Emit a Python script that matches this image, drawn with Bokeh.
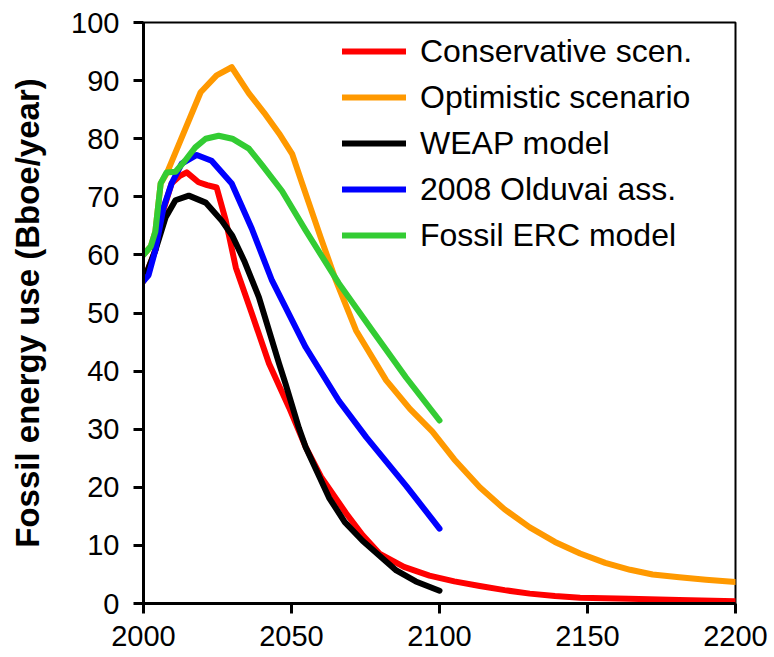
from bokeh.plotting import figure
from bokeh.models import Legend, LegendItem, FixedTicker
from bokeh.embed import file_html
from bokeh.resources import INLINE

# ---- data ----
cons_x = [2000, 2004, 2007, 2009.5, 2012, 2014.6, 2018.6, 2021.5, 2024.7, 2027.8, 2031.2,
          2036.6, 2042.4, 2049.2, 2054.8, 2060, 2068.5, 2074, 2079.7, 2088, 2096.6, 2105,
          2113.6, 2122, 2130.5, 2139, 2147.5, 2164, 2181, 2200]
cons_y = [55.5, 60.8, 68.2, 72.3, 73.5, 74.2, 72.5, 72.0, 71.6, 65.9, 57.8,
          49.9, 41.3, 33.7, 26.9, 21.8, 15.5, 11.8, 8.6, 6.3, 4.8, 3.8,
          3.0, 2.3, 1.7, 1.3, 1.0, 0.8, 0.6, 0.4]

opt_x = [2000, 2002.5, 2004, 2005.8, 2008, 2019.3, 2024.7, 2029.8, 2035.6, 2040.7, 2045.8,
         2050.2, 2053.6, 2060, 2065, 2071.8, 2082, 2090, 2097.6, 2105, 2113.6, 2122, 2130.5,
         2139, 2147.5, 2156, 2164.4, 2172, 2181, 2190, 2200]
opt_y = [60, 61.5, 64, 72.3, 74.2, 88.0, 90.9, 92.3, 87.8, 84.5, 80.9,
         77.4, 72.3, 62.8, 55.6, 47.0, 38.4, 33.5, 29.6, 24.8, 20.0, 16.2, 13.1,
         10.6, 8.6, 7.0, 5.8, 5.0, 4.5, 4.1, 3.7]

weap_x = [2000, 2004, 2007.5, 2010.8, 2015.3, 2021, 2026.4, 2030, 2034, 2039, 2045.8,
          2048, 2052.5, 2054.8, 2062.7, 2068, 2074, 2085.4, 2092, 2100]
weap_y = [55.5, 60.8, 66.5, 69.4, 70.2, 69.0, 65.9, 63.3, 59.0, 52.7, 41.3,
          37.8, 30.2, 26.9, 18.2, 14.0, 10.8, 5.7, 3.8, 2.2]

oldu_x = [2000, 2001.7, 2004, 2006.8, 2009.5, 2012.9, 2018, 2023, 2029.8, 2036.6, 2043.4,
          2054.8, 2066, 2075.3, 2088.8, 2100]
oldu_y = [55.5, 56.5, 60.8, 68.2, 72.3, 75.7, 77.2, 76.2, 72.3, 64.5, 55.6,
          44.1, 34.9, 28.6, 20.2, 12.9]

erc_x = [2000, 2002.5, 2004, 2005.8, 2007.8, 2010.8, 2014, 2017.5, 2021, 2025.4, 2030,
         2035.6, 2040, 2046.8, 2054.8, 2066, 2077.3, 2088.7, 2100]
erc_y = [60, 61.5, 64, 72.3, 74.2, 74.3, 76.2, 78.5, 80.0, 80.5, 80.0,
         78.3, 75.5, 71.0, 64.2, 55.1, 47.0, 38.9, 31.5]

labels = ["Conservative scen.", "Optimistic scenario", "WEAP model",
          "2008 Olduvai ass.", "Fossil ERC model"]
colors = ["#FF0000", "#FF9900", "#000000", "#0000FF", "#33CC33"]
x_ticks = [2000, 2050, 2100, 2150, 2200]
y_ticks = [0, 10, 20, 30, 40, 50, 60, 70, 80, 90, 100]

FONT = "Liberation Sans"

p = figure(frame_width=592, frame_height=581, x_range=(2000, 2200), y_range=(0, 100),
           output_backend="svg", toolbar_location=None,
           min_border_left=143, min_border_top=22, min_border_right=37, min_border_bottom=54)

p.xgrid.visible = False
p.ygrid.visible = False
p.outline_line_color = "black"
p.outline_line_width = 2
p.outline_line_alpha = 1

series = [(cons_x, cons_y), (opt_x, opt_y), (weap_x, weap_y), (oldu_x, oldu_y), (erc_x, erc_y)]
renderers = []
for (xs, ys), c in zip(series, colors):
    r = p.line(xs, ys, line_color=c, line_width=6, line_cap="round", line_join="round")
    renderers.append(r)

for ax in (p.xaxis[0], p.yaxis[0]):
    ax.axis_line_width = 3
    ax.axis_line_color = "black"
    ax.major_tick_line_width = 3
    ax.major_tick_out = 10
    ax.major_tick_in = 0
    ax.minor_tick_line_color = None
    ax.major_label_text_font = FONT
    ax.major_label_text_font_size = "29px"
    ax.major_label_text_color = "black"

p.xaxis.ticker = FixedTicker(ticks=x_ticks)
p.yaxis.ticker = FixedTicker(ticks=y_ticks)
p.xaxis.major_label_standoff = 12
p.yaxis.major_label_standoff = 14

p.yaxis.axis_label = "Fossil energy use (Bboe/year)"
p.yaxis.axis_label_text_font = FONT
p.yaxis.axis_label_text_font_size = "33px"
p.yaxis.axis_label_text_font_style = "bold"
p.yaxis.axis_label_text_color = "black"
p.yaxis.axis_label_standoff = 22

items = [LegendItem(label=l, renderers=[r]) for l, r in zip(labels, renderers)]
legend = Legend(items=items, location=(199, 345))
legend.glyph_width = 64
legend.glyph_height = 46
legend.label_height = 46
legend.spacing = 0
legend.padding = 0
legend.margin = 0
legend.label_standoff = 14
legend.label_text_font = FONT
legend.label_text_font_size = "32px"
legend.label_text_color = "black"
legend.border_line_color = None
legend.background_fill_alpha = 0
p.add_layout(legend)

open("out.html", "w").write(file_html(p, INLINE))
